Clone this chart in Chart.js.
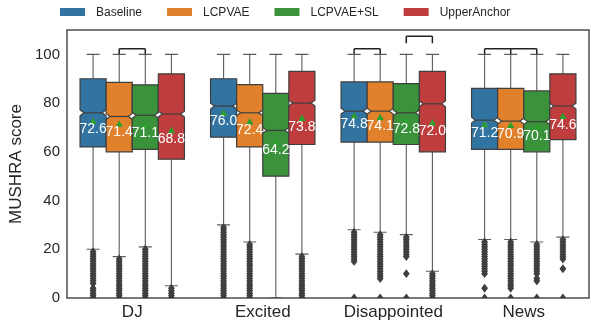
<!DOCTYPE html>
<html>
<head>
<meta charset="utf-8">
<script src="https://cdn.jsdelivr.net/npm/chart.js@4.4.1/dist/chart.umd.min.js"></script>
<style>
  html, body { margin: 0; padding: 0; background: #fff; }
  #wrap { width: 598px; height: 327px; }
</style>
</head>
<body>
<div id="wrap"><canvas id="chart" width="598" height="327"></canvas></div>
<script>
const categories = ['DJ', 'Excited', 'Disappointed', 'News'];
const seriesNames = ['Baseline', 'LCPVAE', 'LCPVAE+SL', 'UpperAnchor'];
const colors = ['#3274a1', '#e1812c', '#3a923a', '#c03d3e'];

// box stats, one row per series, one value per category
const q1Values = [
  [62, 66, 64, 61],
  [60, 62, 64, 61],
  [61, 50, 63, 60],
  [57, 63, 60, 65]
];
const medianValues = [
  [76, 78.8, 76.7, 73],
  [74.5, 76, 76.7, 72.6],
  [75, 68.8, 76, 72.4],
  [75.5, 80, 79.7, 78.8]
];
const q3Values = [
  [90, 90, 88.7, 86],
  [88.5, 87.6, 88.7, 86],
  [87.5, 84, 88, 85],
  [92, 93, 93, 92]
];
const whiskerLow = [
  [20, 30, 28, 24],
  [17, 23, 27, 24],
  [21, 0, 26, 23],
  [5, 18, 11, 25]
];
const whiskerHigh = [
  [100, 100, 100, 100],
  [100, 100, 100, 100],
  [100, 100, 100, 100],
  [100, 100, 100, 100]
];
const meanValues = [
  [72.6, 76.0, 74.8, 71.2],
  [71.4, 72.4, 74.1, 70.9],
  [71.1, 64.2, 72.8, 70.1],
  [68.8, 73.8, 72.0, 74.6]
];
const notchHalf = 1.2;

// outliers (fliers), one list per category
const outliers = [
  [ // Baseline
    [0, 1, 2, 3, 4, 6, 7, 8, 9, 10, 11, 12, 13, 14, 15, 16, 17, 18, 19],
    [0, 1, 2, 3, 4, 5, 6, 7, 8, 9, 10, 11, 12, 13, 14, 15, 16, 17, 18, 19, 20, 21, 22, 23, 24, 25, 26, 27, 28, 29],
    [0, 15, 16, 17, 18, 19, 20, 21, 22, 23, 24, 25, 26, 27],
    [0, 4, 10, 11, 12, 13, 14, 15, 16, 17, 18, 19, 20, 21, 22, 23]
  ],
  [ // LCPVAE
    [0, 1, 2, 3, 4, 5, 6, 7, 8, 9, 10, 11, 12, 13, 14, 15, 16],
    [0, 1, 2, 3, 4, 5, 6, 7, 8, 9, 10, 11, 12, 13, 14, 15, 16, 17, 18, 19, 20, 21, 22],
    [0, 8, 9, 10, 11, 12, 13, 14, 15, 16, 17, 18, 19, 20, 21, 22, 23, 24, 25, 26],
    [0, 4, 5, 6, 7, 8, 9, 10, 11, 12, 13, 14, 15, 16, 17, 18, 19, 20, 21, 22, 23]
  ],
  [ // LCPVAE+SL
    [0, 1, 2, 3, 4, 5, 6, 7, 8, 9, 10, 11, 12, 13, 14, 15, 16, 17, 18, 19, 20],
    [],
    [0, 10, 17, 18, 19, 20, 21, 22, 23, 24, 25],
    [0, 7, 8, 10, 11, 12, 13, 14, 15, 16, 17, 18, 19, 20, 21, 22]
  ],
  [ // UpperAnchor
    [0, 1, 2, 3, 4],
    [0, 1, 2, 3, 4, 5, 6, 7, 8, 9, 10, 11, 12, 13, 14, 15, 16, 17],
    [0, 1, 2, 3, 4, 5, 6, 7, 8, 9, 10],
    [0, 12, 16, 17, 18, 19, 20, 21, 22, 23, 24]
  ]
];

// significance brackets: category, series joined, bar height, leg foot
const brackets = [
  { cat: 0, series: [1, 2], top: 102.3, foot: 100.2 },
  { cat: 2, series: [0, 1], top: 102.3, foot: 100.2 },
  { cat: 2, series: [2, 3], top: 107.4, foot: 104.6 },
  { cat: 3, series: [0, 1, 2], top: 102.3, foot: 100.2 }
];

const FONT = '"Liberation Sans", Arial, Helvetica, sans-serif';
const EDGE = '#3f3f3f';
const TEXT = '#262626';

const boxPlugin = {
  id: 'notchedBoxes',
  beforeDatasetsDraw(chart) {
    const ctx = chart.ctx;
    const area = chart.chartArea;
    const ys = chart.scales.y;
    const py = v => ys.getPixelForValue(v);

    ctx.save();
    ctx.beginPath();
    ctx.rect(area.left, area.top, area.right - area.left, area.bottom - area.top);
    ctx.clip();

    chart.data.datasets.forEach((ds, si) => {
      const meta = chart.getDatasetMeta(si);
      meta.data.forEach((bar, ci) => {
        const x = bar.x;
        const half = bar.width / 2;
        const L = x - half, R = x + half;
        const d = half * 0.3;
        const cap = half / 2;
        const yq1 = py(q1Values[si][ci]), yq3 = py(q3Values[si][ci]);
        const med = medianValues[si][ci];
        const ym = py(med), ylo = py(med - notchHalf), yhi = py(med + notchHalf);
        const wl = py(whiskerLow[si][ci]), wh = py(whiskerHigh[si][ci]);

        // whiskers and caps
        ctx.strokeStyle = '#5c5c5c';
        ctx.lineWidth = 1.1;
        ctx.beginPath();
        ctx.moveTo(x, yq3); ctx.lineTo(x, wh);
        ctx.moveTo(x, yq1); ctx.lineTo(x, wl);
        ctx.moveTo(x - cap, wh); ctx.lineTo(x + cap, wh);
        ctx.moveTo(x - cap, wl); ctx.lineTo(x + cap, wl);
        ctx.stroke();

        // notched box
        ctx.strokeStyle = EDGE;
        ctx.beginPath();
        ctx.moveTo(L, yq1);
        ctx.lineTo(R, yq1);
        ctx.lineTo(R, ylo);
        ctx.lineTo(R - d, ym);
        ctx.lineTo(R, yhi);
        ctx.lineTo(R, yq3);
        ctx.lineTo(L, yq3);
        ctx.lineTo(L, yhi);
        ctx.lineTo(L + d, ym);
        ctx.lineTo(L, ylo);
        ctx.closePath();
        ctx.fillStyle = colors[si];
        ctx.fill();
        ctx.lineWidth = 1.2;
        ctx.stroke();

        // median
        ctx.beginPath();
        ctx.moveTo(L + d, ym); ctx.lineTo(R - d, ym);
        ctx.stroke();

        // fliers
        ctx.fillStyle = EDGE;
        outliers[si][ci].forEach(v => {
          const oy = py(v);
          ctx.beginPath();
          ctx.moveTo(x, oy - 4.4);
          ctx.lineTo(x + 3.4, oy);
          ctx.lineTo(x, oy + 4.4);
          ctx.lineTo(x - 3.4, oy);
          ctx.closePath();
          ctx.fill();
        });

        // mean marker
        const ymean = py(meanValues[si][ci]);
        ctx.fillStyle = '#2ca02c';
        ctx.beginPath();
        ctx.moveTo(x, ymean - 3.6);
        ctx.lineTo(x + 3.7, ymean + 2.8);
        ctx.lineTo(x - 3.7, ymean + 2.8);
        ctx.closePath();
        ctx.fill();
      });
    });
    ctx.restore();

    // mean labels on top of everything
    ctx.save();
    ctx.font = '14px ' + FONT;
    ctx.fillStyle = '#ffffff';
    ctx.textAlign = 'center';
    ctx.textBaseline = 'middle';
    chart.data.datasets.forEach((ds, si) => {
      chart.getDatasetMeta(si).data.forEach((bar, ci) => {
        ctx.fillText(meanValues[si][ci].toFixed(1), bar.x, py(meanValues[si][ci]) + 8.5);
      });
    });
    ctx.restore();

    // brackets
    ctx.save();
    ctx.strokeStyle = '#222222';
    ctx.lineWidth = 1.5;
    brackets.forEach(b => {
      const xs = b.series.map(s => chart.getDatasetMeta(s).data[b.cat].x);
      const yt = py(b.top), yf = py(b.foot);
      ctx.beginPath();
      ctx.moveTo(xs[0], yt);
      ctx.lineTo(xs[xs.length - 1], yt);
      xs.forEach(xx => { ctx.moveTo(xx, yt); ctx.lineTo(xx, yf); });
      ctx.stroke();
    });
    ctx.restore();
    return false;
  },
  afterDraw(chart) {
    const ctx = chart.ctx;
    const a = chart.chartArea;
    ctx.save();
    ctx.strokeStyle = '#333333';
    ctx.lineWidth = 1.3;
    ctx.strokeRect(a.left, a.top, a.right - a.left, a.bottom - a.top);

    // legend
    ctx.font = '12px ' + FONT;
    ctx.textBaseline = 'middle';
    ctx.textAlign = 'left';
    let lx = 60;
    seriesNames.forEach((name, i) => {
      ctx.fillStyle = colors[i];
      ctx.fillRect(lx, 8, 25, 8);
      ctx.fillStyle = TEXT;
      ctx.fillText(name, lx + 36, 12.5);
      lx += 36 + ctx.measureText(name).width + 25;
    });
    ctx.restore();
  }
};

new Chart(document.getElementById('chart'), {
  type: 'bar',
  data: {
    labels: categories,
    datasets: seriesNames.map((name, i) => ({
      label: name,
      data: q1Values[i].map((v, c) => [v, q3Values[i][c]]),
      backgroundColor: colors[i],
      borderWidth: 0,
      categoryPercentage: 0.8,
      barPercentage: 1.0
    }))
  },
  options: {
    responsive: false,
    animation: false,
    devicePixelRatio: 1,
    layout: { padding: { top: 30, right: 9, left: 0, bottom: 0 } },
    plugins: {
      legend: { display: false },
      tooltip: { enabled: false }
    },
    scales: {
      x: {
        grid: { display: false, drawTicks: false },
        border: { display: false },
        ticks: { font: { size: 17, family: FONT }, color: TEXT, padding: 4 },
        afterFit: s => { s.height = 29; }
      },
      y: {
        min: 0,
        max: 110,
        grid: { display: false, drawTicks: false },
        border: { display: false },
        ticks: {
          stepSize: 20,
          includeBounds: false,
          font: { size: 15, family: FONT },
          color: TEXT,
          padding: 7
        },
        title: {
          display: true,
          text: 'MUSHRA score',
          font: { size: 17, family: FONT },
          color: TEXT,
          padding: { top: 6, bottom: 0 }
        },
        afterFit: s => { s.width = 67; }
      }
    }
  },
  plugins: [boxPlugin]
});
</script>
</body>
</html>
